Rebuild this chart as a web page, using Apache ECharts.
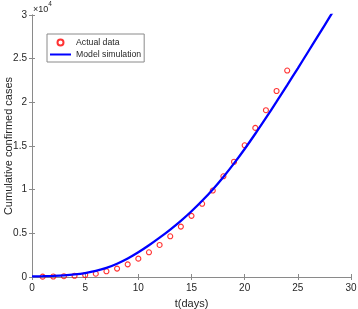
<!DOCTYPE html>
<html>
<head>
<meta charset="utf-8">
<script src="https://cdn.jsdelivr.net/npm/echarts@6/dist/echarts.min.js"></script>
<style>html,body{margin:0;padding:0;background:#fff}#c{width:358px;height:309px}</style>
</head>
<body>
<div id="c"></div>
<script>
// Days for observed data
var actualDays = [1,2,3,4,5,6,7,8,9,10,11,12,13,14,15,16,17,18,19,20,21,22,23,24];
// Observed cumulative confirmed cases
var actualCases = [40,60,90,140,230,380,650,960,1450,2100,2830,3670,4660,5770,7000,8380,9900,11530,13200,15080,17070,19100,21300,23640];
// Model simulation days and values
var modelDays = [0,1,2,3,4,5,6,7,8,9,10,11,12,13,14,15,16,17,18,19,20,21,22,23,24,25,26,27,28,29];
var modelCases = [70,90,130,190,290,450,690,1040,1520,2120,2830,3630,4500,5430,6430,7530,8730,10030,11460,13010,14660,16400,18210,20070,21970,23900,25850,27810,29780,31760];
// Tick labels
var xTicks = [0,5,10,15,20,25,30];
var yTickLabels = ['0','0.5','1','1.5','2','2.5','3'];

var FONT = 'Liberation Sans, Arial, Helvetica, sans-serif';
var AX = '#8a8a8a';
var TXT = '#262626';

function pairs(xs, ys){ return xs.map(function(x,i){ return [x, ys[i]]; }); }

var chart = echarts.init(document.getElementById('c'), null, {renderer:'canvas'});
var axisCommon = {
  axisLine:{show:true, lineStyle:{color:AX, width:1}},
  axisTick:{show:true, inside:true, length:3, lineStyle:{color:AX, width:1}},
  splitLine:{show:false}
};
chart.setOption({
  animation:false,
  backgroundColor:'#fff',
  grid:{left:32, top:15, width:319, height:262, containLabel:false, outerBoundsMode:'none'},
  legend:{
    left:47, top:34, orient:'vertical',
    padding:[4,3,3,2], itemGap:3, itemWidth:21, itemHeight:6,
    borderColor:'#8a8a8a', borderWidth:1, backgroundColor:'#fff',
    textStyle:{fontFamily:FONT, fontSize:8.7, color:TXT},
    data:[{name:'Actual data'}, {name:'Model simulation', itemStyle:{opacity:0}}]
  },
  xAxis:[
    Object.assign({type:'value', min:0, max:30, interval:5, position:'bottom',
      name:'t(days)', nameLocation:'middle', nameGap:21, nameMoveOverlap:false,
      nameTextStyle:{fontFamily:FONT, fontSize:11, color:TXT},
      axisLabel:{fontFamily:FONT, fontSize:10, color:TXT, margin:6,
        formatter:function(v){ return xTicks.indexOf(v) >= 0 ? String(v) : ''; }}
    }, axisCommon),
    Object.assign({type:'value', min:0, max:30, interval:5, position:'top',
      axisLabel:{show:false}}, axisCommon)
  ],
  yAxis:[
    Object.assign({type:'value', min:0, max:30000, interval:5000, position:'left',
      name:'Cumulative confirmed cases', nameLocation:'middle', nameGap:18, nameMoveOverlap:false,
      nameTextStyle:{fontFamily:FONT, fontSize:11, color:TXT},
      axisLabel:{fontFamily:FONT, fontSize:10, color:TXT, margin:5,
        formatter:function(v){ return yTickLabels[Math.round(v/5000)]; }}
    }, axisCommon),
    Object.assign({type:'value', min:0, max:30000, interval:5000, position:'right',
      axisLabel:{show:false}}, axisCommon)
  ],
  graphic:[{
    type:'text', left:33, top:1,
    style:{
      text:'{a|×10}{b|4}',
      rich:{
        a:{fontFamily:FONT, fontSize:9, fill:TXT, verticalAlign:'bottom', padding:[4,0,0,0]},
        b:{fontFamily:FONT, fontSize:6.5, fill:TXT, verticalAlign:'top', padding:[0,0,4,0]}
      }
    }
  }],
  series:[
    {
      name:'Actual data', type:'scatter', xAxisIndex:0, yAxisIndex:0,
      data:pairs(actualDays, actualCases),
      symbol:'circle', symbolSize:5,
      itemStyle:{color:'rgba(255,255,255,0)', borderColor:'#ff0000', borderWidth:1.1},
      z:2
    },
    {
      name:'Model simulation', type:'line', xAxisIndex:0, yAxisIndex:0,
      data:pairs(modelDays, modelCases),
      smooth:0.3, showSymbol:false, symbol:'none', clip:true,
      lineStyle:{color:'#0000ff', width:2.3},
      itemStyle:{color:'#0000ff'},
      z:3
    }
  ]
});
</script>
</body>
</html>
